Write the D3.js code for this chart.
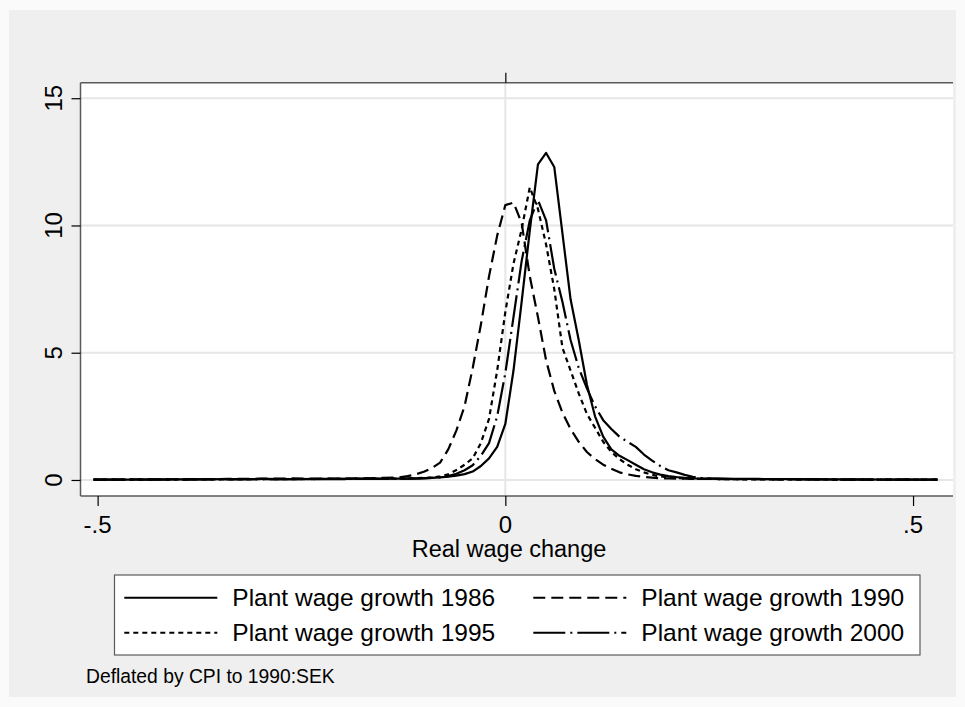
<!DOCTYPE html>
<html>
<head>
<meta charset="utf-8">
<script src="https://d3js.org/d3.v7.min.js"></script>
<style>
  body { margin: 0; background: #fafafa; }
  text { font-family: "Liberation Sans", Arial, sans-serif; fill: #000; }
</style>
</head>
<body>
<div id="chart"></div>
<script>
// evaluation points (real wage change)
var xs = [-0.505, -0.46, -0.42, -0.38, -0.34, -0.30, -0.26, -0.22, -0.18, -0.15,
  -0.13, -0.12, -0.11, -0.10, -0.09, -0.08, -0.07, -0.06, -0.05, -0.04, -0.03, -0.02, -0.01,
  0.00, 0.01, 0.02, 0.03, 0.04, 0.05, 0.06, 0.07, 0.08, 0.09, 0.10, 0.11, 0.12, 0.13, 0.14,
  0.15, 0.16, 0.17, 0.18, 0.19, 0.20, 0.21, 0.22, 0.23, 0.24, 0.25,
  0.28, 0.31, 0.35, 0.39, 0.43, 0.47, 0.50, 0.53];

var dens1986 = [0.01, 0.01, 0.02, 0.02, 0.03, 0.04, 0.03, 0.04, 0.05, 0.05,
  0.05, 0.05, 0.06, 0.07, 0.08, 0.10, 0.13, 0.17, 0.23, 0.33, 0.55, 0.85, 1.3,
  2.2, 4.3, 7.0, 9.8, 12.4, 12.85, 12.3, 9.7, 7.1, 5.5, 3.75, 2.5, 1.7, 1.2, 0.95,
  0.78, 0.6, 0.42, 0.3, 0.21, 0.15, 0.11, 0.08, 0.06, 0.05, 0.05,
  0.04, 0.04, 0.03, 0.02, 0.02, 0.01, 0.01, 0.01];

var dens1990 = [0.01, 0.02, 0.02, 0.03, 0.04, 0.05, 0.06, 0.05, 0.06, 0.08,
  0.10, 0.15, 0.22, 0.32, 0.47, 0.68, 1.2, 1.95, 2.9, 4.4, 6.1, 8.0, 9.6,
  10.8, 10.9, 10.1, 8.0, 6.4, 4.7, 3.5, 2.65, 2.0, 1.5, 1.1, 0.82, 0.6, 0.44, 0.3,
  0.22, 0.16, 0.12, 0.09, 0.07, 0.06, 0.05, 0.05, 0.04, 0.04, 0.04,
  0.03, 0.03, 0.02, 0.02, 0.01, 0.01, 0.01, 0.01];

var dens1995 = [0.01, 0.01, 0.02, 0.02, 0.02, 0.03, 0.03, 0.04, 0.04, 0.05,
  0.05, 0.06, 0.07, 0.08, 0.10, 0.14, 0.22, 0.39, 0.6, 0.85, 1.45, 2.4, 4.3,
  6.6, 8.5, 9.85, 11.5, 10.65, 9.25, 7.5, 5.2, 4.3, 3.4, 2.6, 2.05, 1.5, 1.1, 0.82,
  0.6, 0.42, 0.3, 0.2, 0.14, 0.1, 0.08, 0.06, 0.05, 0.04, 0.04,
  0.03, 0.02, 0.02, 0.02, 0.01, 0.01, 0.01, 0.01];

var dens2000 = [0.01, 0.01, 0.01, 0.02, 0.02, 0.02, 0.03, 0.03, 0.04, 0.04,
  0.04, 0.05, 0.05, 0.06, 0.08, 0.10, 0.15, 0.24, 0.38, 0.58, 0.95, 1.45, 2.5,
  4.2, 6.4, 8.6, 10.2, 11.0, 10.2, 8.3, 7.0, 5.5, 4.4, 3.6, 2.9, 2.35, 2.0, 1.7,
  1.5, 1.3, 1.0, 0.76, 0.55, 0.38, 0.3, 0.2, 0.12, 0.08, 0.06,
  0.03, 0.03, 0.02, 0.02, 0.01, 0.01, 0.01, 0.01];

var seriesNames = ["Plant wage growth 1986", "Plant wage growth 1990",
                   "Plant wage growth 1995", "Plant wage growth 2000"];
var seriesDash = [null, "12,6", "5,4", "32,5,2,5"];
var yTicks = [0, 5, 10, 15];
var xTicks = [-0.5, 0, 0.5];
var xTickLabels = ["-.5", "0", ".5"];

var series = [dens1986, dens1990, dens1995, dens2000].map(function(vals, i) {
  return { name: seriesNames[i], dash: seriesDash[i],
           values: vals.map(function(v, j) { return { x: xs[j], y: v }; }) };
});

var W = 965, H = 707;
var plot = { left: 80.5, right: 953, top: 82.7, bottom: 496 };

var svg = d3.select("#chart").append("svg")
  .attr("width", W).attr("height", H);

// outer graph region
svg.append("rect")
  .attr("x", 9).attr("y", 10).attr("width", 947).attr("height", 687)
  .attr("fill", "#efefef");

svg.append("rect")
  .attr("x", plot.left).attr("y", plot.top)
  .attr("width", plot.right - plot.left).attr("height", plot.bottom - plot.top)
  .attr("fill", "#fff");

var x = d3.scaleLinear().domain([-0.521, 0.549]).range([plot.left, plot.right]);
var y = d3.scaleLinear().domain([-0.63, 15.61]).range([plot.bottom, plot.top]);

// grid lines
svg.append("g").selectAll("line")
  .data(yTicks).enter().append("line")
  .attr("x1", plot.left).attr("x2", plot.right)
  .attr("y1", function(d) { return y(d); })
  .attr("y2", function(d) { return y(d); })
  .attr("stroke", "#e6e6e6").attr("stroke-width", 2);

svg.append("line")
  .attr("x1", x(0)).attr("x2", x(0))
  .attr("y1", plot.top).attr("y2", plot.bottom)
  .attr("stroke", "#e6e6e6").attr("stroke-width", 2);

// curves
var line = d3.line()
  .x(function(d) { return x(d.x); })
  .y(function(d) { return y(d.y); });

svg.append("g").selectAll("path")
  .data(series).enter().append("path")
  .attr("d", function(d) { return line(d.values); })
  .attr("fill", "none")
  .attr("stroke", "#000")
  .attr("stroke-width", 2.2)
  .attr("stroke-linejoin", "round")
  .attr("stroke-dasharray", function(d) { return d.dash; });

// axes
var yAxis = svg.append("g")
  .attr("transform", "translate(" + plot.left + ",0)")
  .call(d3.axisLeft(y).tickValues(yTicks).tickSize(9).tickFormat(""));
var xAxis = svg.append("g")
  .attr("transform", "translate(0," + plot.bottom + ")")
  .call(d3.axisBottom(x).tickValues(xTicks).tickSize(10).tickFormat(""));
var xTop = svg.append("g")
  .attr("transform", "translate(0," + plot.top + ")")
  .call(d3.axisTop(x).tickValues([0]).tickSize(10).tickFormat(""));

[yAxis, xAxis, xTop].forEach(function(a) {
  a.select(".domain").attr("stroke", "#5a5a5a").attr("stroke-width", 1.5)
    .attr("d", a === yAxis
      ? "M0," + plot.top + "V" + plot.bottom
      : "M" + plot.left + ",0H" + plot.right);
  a.selectAll(".tick line").attr("stroke", "#000").attr("stroke-width", 1.2);
});

svg.append("g").selectAll("text")
  .data(yTicks).enter().append("text")
  .attr("transform", function(d) { return "translate(62," + y(d) + ") rotate(-90)"; })
  .attr("text-anchor", "middle")
  .style("font-size", "24px")
  .text(function(d) { return d; });

svg.append("g").selectAll("text")
  .data(xTicks).enter().append("text")
  .attr("x", function(d) { return x(d); })
  .attr("y", 533)
  .attr("text-anchor", "middle")
  .style("font-size", "24px")
  .text(function(d, i) { return xTickLabels[i]; });

svg.append("text")
  .attr("x", 509).attr("y", 557)
  .attr("text-anchor", "middle")
  .style("font-size", "23.5px")
  .text("Real wage change");

// legend
var legend = svg.append("g");
legend.append("rect")
  .attr("x", 114.5).attr("y", 575).attr("width", 805.5).attr("height", 80)
  .attr("fill", "#fff").attr("stroke", "#5a5a5a").attr("stroke-width", 1.2);

var legCols = [124.3, 533.3], legRows = [597.7, 632.7];
var items = legend.selectAll(".item")
  .data(series).enter().append("g")
  .attr("class", "item")
  .attr("transform", function(d, i) {
    return "translate(" + legCols[i % 2] + "," + legRows[Math.floor(i / 2)] + ")";
  });
items.append("line")
  .attr("x1", 0).attr("x2", 93).attr("y1", 0).attr("y2", 0)
  .attr("stroke", "#000").attr("stroke-width", 2)
  .attr("stroke-dasharray", function(d) { return d.dash; });
items.append("text")
  .attr("x", 108).attr("y", 8.7)
  .style("font-size", "24.5px")
  .text(function(d) { return d.name; });

svg.append("text")
  .attr("x", 86).attr("y", 683)
  .style("font-size", "19.3px")
  .text("Deflated by CPI to 1990:SEK");
</script>
</body>
</html>
